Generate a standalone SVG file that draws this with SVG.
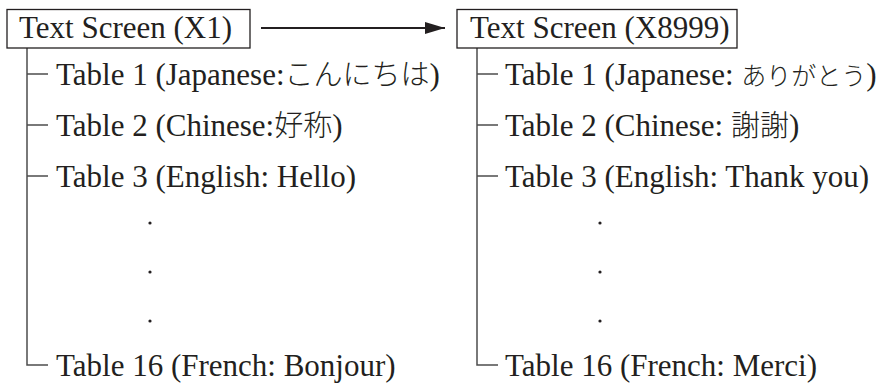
<svg xmlns="http://www.w3.org/2000/svg" width="887" height="383" viewBox="0 0 887 383">
<defs>
<marker id="ah" viewBox="0 0 20 12" refX="20" refY="6" markerWidth="20" markerHeight="12" markerUnits="userSpaceOnUse" orient="auto">
<path d="M0,0 L20,6 L0,12 z" fill="#231f20"/>
</marker>
</defs>
<style>
text{font-family:"Liberation Serif","Times New Roman","Noto Sans CJK JP",serif;font-size:31px;fill:#231f20}
.jp{font-family:"Noto Sans CJK JP",sans-serif;font-weight:300;font-size:29px}
.jp2{font-family:"Noto Sans CJK JP",sans-serif;font-weight:300;font-size:25px}
.box{fill:#fff;stroke:#231f20;stroke-width:1.3}
.ln{fill:none;stroke:#4d4d4d;stroke-width:1.5}
.dot{fill:#231f20}
</style>
<g id="connectors">
<line x1="261" y1="28" x2="445" y2="28" stroke="#231f20" stroke-width="2.2" marker-end="url(#ah)"/>
<path class="ln" d="M27,48 V365 H48 M27,74 H48 M27,125 H48 M27,176 H48"/>
<path class="ln" d="M477,48 V365 H498 M477,74 H498 M477,125 H498 M477,176 H498"/>
</g>
<g id="screen-x1">
<rect class="box" x="7" y="9.5" width="243" height="38.5"/>
<text x="19" y="38">Text Screen (X1)</text>
</g>
<g id="screen-x8999">
<rect class="box" x="457" y="9.5" width="280" height="38.5"/>
<text x="470" y="38">Text Screen (X8999)</text>
</g>
<g id="x1-table1"><text x="56" y="85">Table 1 (Japanese:<tspan class="jp">こんにちは</tspan>)</text></g>
<g id="x1-table2"><text x="56" y="136">Table 2 (Chinese:<tspan class="jp" font-family="Noto Sans CJK SC">好称</tspan>)</text></g>
<g id="x1-table3"><text x="56" y="187">Table 3 (English: Hello)</text></g>
<g id="x1-dots"><circle class="dot" cx="150" cy="223" r="1.6"/><circle class="dot" cx="150" cy="272" r="1.6"/><circle class="dot" cx="150" cy="321" r="1.6"/></g>
<g id="x1-table16"><text x="56" y="376">Table 16 (French: Bonjour)</text></g>
<g id="x8999-table1"><text x="505" y="85" font-size="30">Table 1 (Japanese: <tspan class="jp2">ありがとう</tspan>)</text></g>
<g id="x8999-table2"><text x="505" y="136">Table 2 (Chinese: <tspan class="jp" font-size="27" font-family="Noto Sans CJK TC">謝謝</tspan>)</text></g>
<g id="x8999-table3"><text x="505" y="187">Table 3 (English: Thank you)</text></g>
<g id="x8999-dots"><circle class="dot" cx="600" cy="223" r="1.6"/><circle class="dot" cx="600" cy="272" r="1.6"/><circle class="dot" cx="600" cy="321" r="1.6"/></g>
<g id="x8999-table16"><text x="505" y="376">Table 16 (French: Merci)</text></g>
</svg>
